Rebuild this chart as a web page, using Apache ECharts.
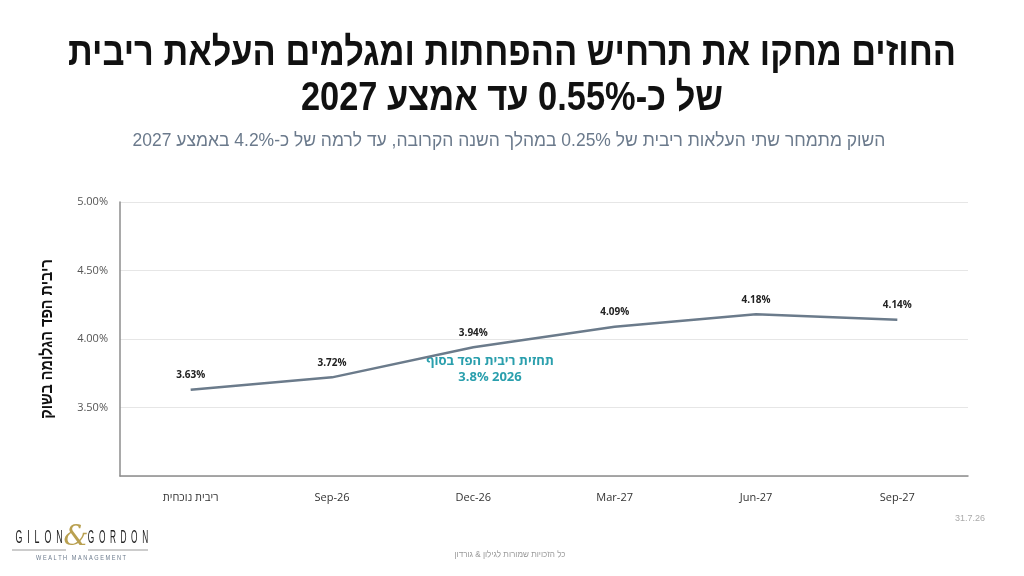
<!DOCTYPE html>
<html dir="rtl">
<head>
<meta charset="utf-8">
<script src="https://cdn.jsdelivr.net/npm/echarts@6/dist/echarts.min.js"></script>
<style>
html,body{margin:0;padding:0;background:#fff;}
#chart{position:absolute;left:0;top:0;width:1024px;height:576px;}
</style>
</head>
<body>
<div id="chart"></div>
<script>
const categories = ['ריבית נוכחית', 'Sep-26', 'Dec-26', 'Mar-27', 'Jun-27', 'Sep-27'];
const impliedRate = [3.63, 3.72, 3.94, 4.09, 4.18, 4.14];
const yTicks = [3.0, 3.5, 4.0, 4.5, 5.0];

const titleLine1 = 'החוזים מחקו את תרחיש ההפחתות ומגלמים העלאת ריבית';
const titleLine2 = 'של כ-0.55% עד אמצע 2027';
const subtitleText = 'השוק מתמחר שתי העלאות ריבית של 0.25% במהלך השנה הקרובה, עד לרמה של כ-4.2% באמצע 2027';
const yAxisName = 'ריבית הפד הגלומה בשוק';
const annotationText = 'תחזית ריבית הפד בסוף\n2026 3.8%';
const dateText = '31.7.26';
const footerText = 'כל הזכויות שמורות לגילון & גורדון';

const chart = echarts.init(document.getElementById('chart'));
const sans = '"Liberation Sans", "DejaVu Sans", sans-serif';

chart.setOption({
  backgroundColor: '#ffffff',
  animation: false,
  grid: { left: 120, right: 56, top: 202, bottom: 100 },
  xAxis: {
    type: 'category',
    data: categories,
    boundaryGap: true,
    axisLine: { show: true, lineStyle: { color: '#8c8c8c', width: 1.5 } },
    axisTick: { show: false },
    axisLabel: { color: '#333333', fontSize: 11, margin: 16, fontFamily: 'Open Sans, sans-serif' }
  },
  yAxis: {
    type: 'value',
    min: yTicks[0],
    max: yTicks[yTicks.length - 1],
    interval: 0.5,
    axisLine: { show: true, lineStyle: { color: '#8c8c8c', width: 1.5 } },
    axisTick: { show: false },
    splitLine: { lineStyle: { color: '#e6e6e6', width: 1 } },
    axisLabel: {
      color: '#555555', fontSize: 11, margin: 12, fontFamily: 'Open Sans, sans-serif',
      formatter: v => (v === yTicks[0] ? '' : v.toFixed(2) + '%')
    }
  },
  series: [{
    type: 'line',
    data: impliedRate,
    symbol: 'circle',
    symbolSize: 1,
    showSymbol: true,
    itemStyle: { color: 'rgba(0,0,0,0)', borderWidth: 0 },
    lineStyle: { color: '#6b7b8b', width: 2.5 },
    label: {
      show: true,
      position: 'top',
      distance: 9,
      color: '#222222',
      fontWeight: 'bold',
      fontSize: 10,
      fontFamily: 'Open Sans, sans-serif',
      formatter: p => p.value.toFixed(2) + '%'
    }
  }],
  graphic: [
    {
      type: 'text', x: 512, y: 54, scaleX: 0.86,
      style: { text: titleLine1, fill: '#111111', font: 'bold 40px ' + sans, textAlign: 'center', textVerticalAlign: 'middle' }
    },
    {
      type: 'text', x: 512, y: 99, scaleX: 0.86,
      style: { text: titleLine2, fill: '#111111', font: 'bold 40px ' + sans, textAlign: 'center', textVerticalAlign: 'middle' }
    },
    {
      type: 'text', x: 509, y: 141, scaleX: 0.92,
      style: { text: subtitleText, fill: '#6b7a8c', font: '19px ' + sans, textAlign: 'center', textVerticalAlign: 'middle' }
    },
    {
      type: 'text', x: 47, y: 339, rotation: Math.PI / 2, scaleX: 0.85,
      style: { text: yAxisName, fill: '#111111', font: 'bold 17px ' + sans, textAlign: 'center', textVerticalAlign: 'middle' }
    },
    {
      type: 'text', x: 490, y: 369,
      style: {
        text: annotationText, fill: '#2a9fad', font: 'bold 13px "Open Sans", sans-serif',
        textAlign: 'center', textVerticalAlign: 'middle', lineHeight: 16
      }
    },
    {
      type: 'text', x: 970, y: 519,
      style: { text: dateText, fill: '#aaaaaa', font: '9px ' + sans, textAlign: 'center', textVerticalAlign: 'middle' }
    },
    {
      type: 'text', x: 510, y: 555, scaleX: 0.9,
      style: { text: footerText, fill: '#999999', font: '9px ' + sans, textAlign: 'center', textVerticalAlign: 'middle' }
    },
    {
      type: 'text', x: 39, y: 538, scaleX: 0.49,
      style: { text: 'G  I  L  O  N', fill: '#222222', font: '18px ' + sans, textAlign: 'center', textVerticalAlign: 'middle' }
    },
    {
      type: 'text', x: 76, y: 538,
      style: { text: '&', fill: '#b9a050', font: 'italic 28px "DejaVu Serif", serif', textAlign: 'center', textVerticalAlign: 'middle' }
    },
    {
      type: 'text', x: 118, y: 538, scaleX: 0.46,
      style: { text: 'G  O  R  D  O  N', fill: '#222222', font: '18px ' + sans, textAlign: 'center', textVerticalAlign: 'middle' }
    },
    {
      type: 'line', shape: { x1: 12, y1: 550, x2: 66, y2: 550 },
      style: { stroke: '#9a9a9a', lineWidth: 1 }
    },
    {
      type: 'line', shape: { x1: 88, y1: 550, x2: 148, y2: 550 },
      style: { stroke: '#9a9a9a', lineWidth: 1 }
    },
    {
      type: 'text', x: 81, y: 558, scaleX: 0.8,
      style: { text: 'W E A L T H   M A N A G E M E N T', fill: '#6b7a8c', font: '7px ' + sans, textAlign: 'center', textVerticalAlign: 'middle' }
    }
  ]
});
</script>
</body>
</html>
